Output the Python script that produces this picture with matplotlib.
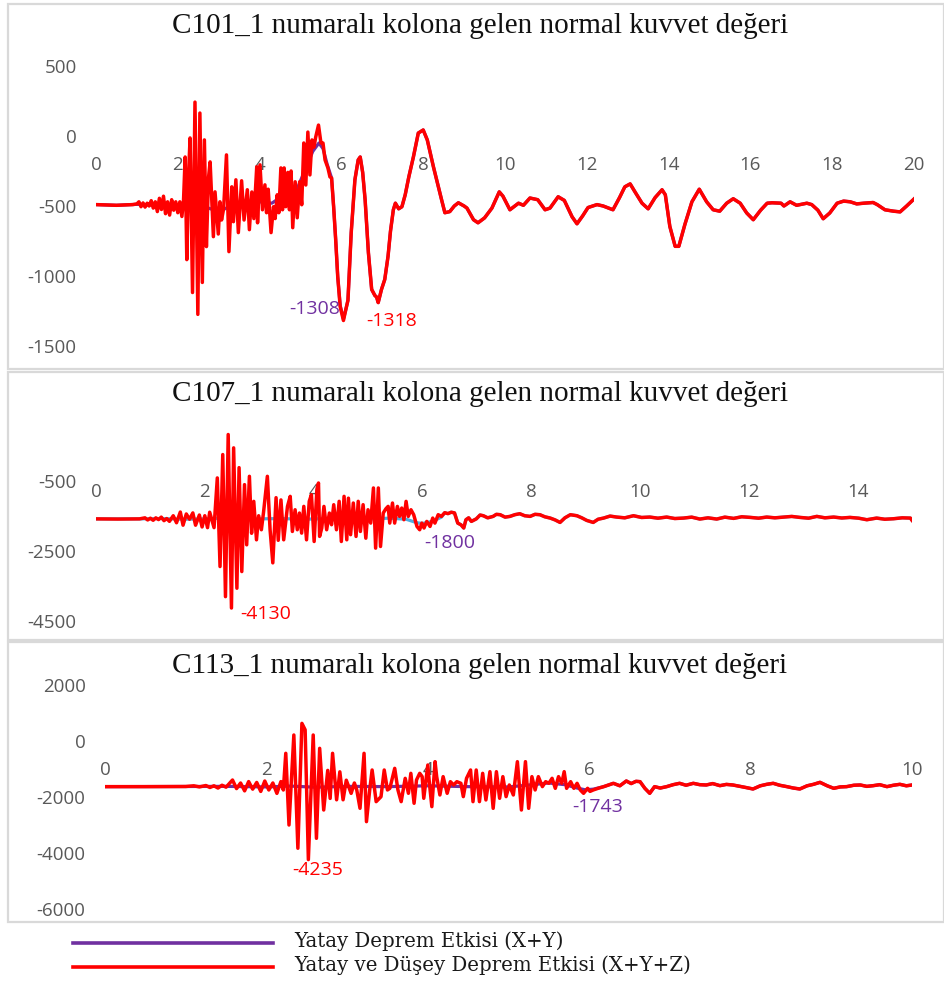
import numpy as np
import matplotlib
matplotlib.use("Agg")
import matplotlib.pyplot as plt
from matplotlib.lines import Line2D
from matplotlib.patches import Rectangle

# ---------------- DATA ----------------
titles = ["C101_1 numaralı kolona gelen normal kuvvet değeri",
          "C107_1 numaralı kolona gelen normal kuvvet değeri",
          "C113_1 numaralı kolona gelen normal kuvvet değeri"]
legend_labels = ["Yatay Deprem Etkisi (X+Y)", "Yatay ve Düşey Deprem Etkisi (X+Y+Z)"]

# Panel 1 (C101_1)
p1_red_head_t = [0.0, 0.5, 0.9, 1.0, 1.05, 1.1, 1.15, 1.2, 1.25, 1.3, 1.35, 1.4, 1.45, 1.5, 1.55, 1.6,
                 1.65, 1.7, 1.75, 1.8, 1.85, 1.9, 1.95, 2.0, 2.05, 2.1, 2.14, 2.18, 2.22, 2.26, 2.30,
                 2.36, 2.42, 2.49, 2.54, 2.60, 2.65, 2.70, 2.75, 2.79, 2.87, 2.91, 2.99, 3.03, 3.07,
                 3.12, 3.19, 3.25, 3.32, 3.36, 3.42, 3.48, 3.56, 3.62, 3.70, 3.75, 3.81, 3.86, 3.93,
                 3.95, 4.01, 4.07, 4.13, 4.17, 4.21, 4.28, 4.34, 4.38, 4.43, 4.47, 4.52, 4.56, 4.60,
                 4.64, 4.69, 4.73, 4.77, 4.81, 4.87, 4.92, 4.98, 5.03, 5.08, 5.13, 5.18, 5.23, 5.28,
                 5.33, 5.37, 5.44, 5.50, 5.55, 5.60, 5.67, 5.72, 5.76, 5.81, 5.86, 5.91, 5.97, 6.05]
p1_red_head_v = [-490, -495, -490, -485, -470, -505, -478, -508, -480, -500, -462, -515, -470, -540, -445, -525,
                 -430, -555, -470, -565, -455, -530, -470, -548, -470, -575, -460, -150, -883, -300, -14,
                 -1118, 242, -1274, 164, -1046, -28, -790, -300, -185, -719, -399, -700, -470, -600,
                 -520, -135, -826, -363, -612, -313, -690, -320, -600, -384, -669, -400, -590, -220,
                 -620, -206, -527, -349, -548, -380, -690, -505, -590, -420, -548, -228, -527, -228,
                 -505, -260, -527, -250, -655, -327, -584, -327, -491, -50, -350, 28, -278, -28,
                 -80, -10, 78, -50, -50, -171, -228, -292, -300, -505, -740, -1004, -1218, -1318]
p1_pur_head_t = [0.0, 0.5, 1.0, 1.5, 2.0, 2.3, 2.6, 3.0, 3.3, 3.6, 4.0, 4.3, 4.6, 4.9, 5.1, 5.3,
                 5.45, 5.55, 5.65, 5.76, 5.81, 5.86, 5.91, 5.97, 6.05]
p1_pur_head_v = [-490, -495, -488, -495, -505, -520, -500, -540, -500, -490, -470, -480, -420, -390, -250, -110,
                 -50, -90, -200, -300, -505, -740, -1004, -1210, -1308]
p1_tail_t = [6.10, 6.16, 6.24, 6.33, 6.41, 6.46, 6.52, 6.58, 6.66, 6.74, 6.82, 6.86, 6.90, 6.98, 7.06,
             7.14, 7.20, 7.27, 7.32, 7.40, 7.48, 7.56, 7.65, 7.76, 7.88, 8.00, 8.10, 8.25, 8.37, 8.45,
             8.53, 8.65, 8.76, 8.86, 9.00, 9.07, 9.23, 9.34, 9.50, 9.68, 9.86, 9.95, 10.12, 10.33,
             10.45, 10.61, 10.80, 10.98, 11.10, 11.30, 11.45, 11.64, 11.76, 11.90, 12.03, 12.25,
             12.40, 12.64, 12.80, 12.93, 13.06, 13.18, 13.35, 13.50, 13.67, 13.84, 13.92, 14.03,
             14.16, 14.25, 14.40, 14.57, 14.75, 14.93, 15.09, 15.25, 15.42, 15.58, 15.75, 15.91,
             16.07, 16.25, 16.41, 16.53, 16.75, 16.82, 16.97, 17.13, 17.38, 17.50, 17.65, 17.78,
             17.94, 18.12, 18.28, 18.44, 18.60, 18.77, 19.00, 19.10, 19.29, 19.50, 19.66, 19.82, 20.00]
p1_tail_v = [-1250, -1174, -690, -313, -171, -150, -260, -456, -833, -1096, -1140, -1150, -1190, -1096, -1025,
             -860, -680, -527, -480, -520, -505, -420, -290, -150, 21, 43, -28, -220, -363, -456,
             -548, -540, -500, -477, -500, -515, -598, -620, -585, -515, -399, -430, -527, -480,
             -495, -443, -455, -527, -515, -434, -460, -577, -627, -570, -511, -490,
             -500, -527, -440, -363, -342, -400, -480, -520, -440, -384, -420, -646,
             -788, -788, -630, -470, -380, -470, -527, -537, -480, -448, -480, -550,
             -598, -530, -480, -477, -480, -500, -470, -495, -480, -490, -530, -591,
             -550, -480, -465, -470, -485, -480, -475, -490, -527, -537, -542, -500, -450]

# Panel 2 (C107_1)
p2_red_head_t = [0.0, 0.4, 0.8, 0.9, 0.95, 1.0, 1.05, 1.1, 1.15, 1.2, 1.25, 1.3, 1.35, 1.42, 1.48, 1.55,
                 1.60, 1.66, 1.72, 1.78, 1.83, 1.90, 1.95, 2.00, 2.05, 2.09, 2.17, 2.23, 2.28, 2.33,
                 2.38, 2.43, 2.49, 2.53, 2.59, 2.63, 2.68, 2.73, 2.77, 2.82, 2.86, 2.90, 2.95, 2.99,
                 3.04, 3.08, 3.15, 3.20, 3.25, 3.31, 3.35, 3.40, 3.45, 3.52, 3.57, 3.61, 3.66, 3.70,
                 3.74, 3.78, 3.82, 3.87, 3.92, 3.96, 4.01, 4.06, 4.09, 4.11, 4.15, 4.19, 4.24, 4.29,
                 4.33, 4.37, 4.42, 4.47, 4.51, 4.56, 4.61, 4.64, 4.68, 4.73, 4.78, 4.82, 4.86, 4.91,
                 4.96, 5.00, 5.05, 5.10, 5.14, 5.19, 5.23, 5.28, 5.33, 5.37, 5.40, 5.45, 5.49, 5.54,
                 5.58, 5.62, 5.66, 5.70, 5.74, 5.79, 5.84, 5.90, 5.95, 5.99, 6.03, 6.08, 6.14, 6.19,
                 6.23, 6.29, 6.35]
p2_red_head_v = [-1590, -1595, -1590, -1560, -1620, -1570, -1630, -1560, -1610, -1540, -1640, -1580, -1660, -1500, -1700, -1395,
                 -1770, -1450, -1600, -1420, -1770, -1480, -1820, -1500, -1840, -1400, -1840, -423, -2948, 243,
                 -3806, 814, -4130, 434, -3566, -130, -3091, -614, -2329, -377, -2000, -1091, -2186, -1500,
                 -1900, -1400, -377, -1900, -2843, -986, -2200, -1050, -2186, -1234, -948, -1948, -1329, -1900,
                 -1423, -1995, -1234, -2186, -1090, -900, -2234, -757, -567, -2090, -1852, -1234, -1900, -1423,
                 -1757, -1186, -1900, -1090, -2234, -948, -2186, -1000, -2040, -1138, -2090, -1090, -1948, -1186,
                 -2140, -1329, -1710, -709, -2423, -709, -2376, -1423, -1300, -1234, -1710, -1138, -1710, -1234,
                 -1519, -1281, -1614, -1090, -1519, -1330, -1471, -1805, -1900, -1710, -1850, -1662, -1805, -1567,
                 -1710, -1471, -1519]
p2_pur_head_t = [0.0, 0.8, 1.2, 1.6, 2.0, 2.3, 2.6, 3.0, 3.4, 3.8, 4.2, 4.6, 5.0, 5.4, 5.7, 5.9,
                 6.0, 6.1, 6.2, 6.35]
p2_pur_head_v = [-1590, -1590, -1580, -1600, -1590, -1570, -1610, -1590, -1580, -1600, -1585, -1575, -1590, -1570, -1600, -1700,
                 -1720, -1690, -1650, -1540]
p2_tail_t = [6.41, 6.47, 6.53, 6.59, 6.65, 6.71, 6.76, 6.80, 6.85, 6.90, 6.99, 7.06, 7.12, 7.20, 7.30,
             7.36, 7.43, 7.52, 7.61, 7.70, 7.79, 7.88, 7.98, 8.07, 8.16, 8.25, 8.35, 8.44, 8.53, 8.62,
             8.72, 8.84, 8.93, 9.02, 9.14, 9.23, 9.33, 9.45, 9.57, 9.72, 9.88, 10.03, 10.18, 10.33,
             10.49, 10.64, 10.80, 10.95, 11.10, 11.25, 11.41, 11.56, 11.72, 11.87, 12.03, 12.18,
             12.33, 12.48, 12.64, 12.79, 12.94, 13.10, 13.25, 13.40, 13.56, 13.71, 13.86, 14.02,
             14.17, 14.35, 14.50, 14.66, 14.82, 14.97, 15.00]
p2_tail_v = [-1414, -1440, -1400, -1420, -1710, -1760, -1850, -1614, -1560, -1662, -1590, -1480, -1500, -1560, -1519,
             -1460, -1471, -1540, -1519, -1470, -1443, -1500, -1519, -1460, -1471, -1530, -1567, -1620, -1691, -1560,
             -1471, -1500, -1560, -1633, -1691, -1600, -1567, -1510, -1538, -1560, -1500, -1550, -1538, -1570,
             -1538, -1580, -1567, -1540, -1595, -1560, -1595, -1540, -1576, -1530, -1548, -1570,
             -1538, -1560, -1538, -1520, -1548, -1570, -1519, -1560, -1538, -1565, -1548, -1570,
             -1614, -1567, -1600, -1586, -1560, -1567, -1630]

# Panel 3 (C113_1)
p3_red_head_t = [0.0, 0.5, 1.0, 1.1, 1.17, 1.25, 1.3, 1.35, 1.4, 1.45, 1.5, 1.58, 1.63, 1.68, 1.73, 1.78,
                 1.83, 1.88, 1.93, 1.98, 2.03, 2.08, 2.13, 2.18, 2.21, 2.24, 2.28, 2.34, 2.39, 2.44,
                 2.48, 2.52, 2.58, 2.62, 2.66, 2.71, 2.76, 2.79, 2.82, 2.87, 2.91, 2.95, 2.99, 3.05,
                 3.09, 3.12, 3.16, 3.21, 3.24, 3.28, 3.31, 3.36, 3.42, 3.46, 3.50, 3.53, 3.59, 3.63,
                 3.67, 3.72, 3.76, 3.79, 3.83, 3.86, 3.90, 3.93, 3.95, 4.00, 4.02, 4.05, 4.09, 4.11,
                 4.15, 4.19, 4.24, 4.28, 4.32, 4.36, 4.41, 4.44, 4.48, 4.53, 4.56, 4.60, 4.64, 4.68,
                 4.72, 4.77, 4.81, 4.85, 4.89, 4.93, 4.97, 5.01, 5.06, 5.11, 5.16, 5.21, 5.25, 5.29,
                 5.33, 5.37, 5.42, 5.46, 5.50, 5.54, 5.58, 5.62, 5.66, 5.69, 5.72, 5.77, 5.81, 5.85,
                 5.89, 5.93, 5.98, 6.01, 6.05, 6.11, 6.18, 6.24]
p3_red_head_v = [-1630, -1630, -1625, -1600, -1640, -1590, -1660, -1600, -1680, -1580, -1650, -1393, -1700, -1500, -1780, -1450,
                 -1720, -1480, -1800, -1430, -1750, -1500, -1870, -1450, -1750, -440, -3000, 214, -3830, 630,
                 400, -4235, 214, -3475, -262, -2464, -1050, -2050, -440, -2100, -1100, -2100, -1400, -1870,
                 -1500, -1750, -2404, -440, -2880, -1749, -1035, -2166, -1990, -1035, -1749, -1690, -976, -1749,
                 -2166, -1333, -1868, -1154, -2225, -1392, -1154, -1273, -2047, -857, -1511, -2344, -738, -1273,
                 -1928, -1273, -1868, -1452, -1571, -1452, -1511, -1987, -1333, -1035, -2166, -1035, -2166, -1154,
                 -2106, -1095, -2404, -1095, -2047, -1273, -1987, -1571, -1928, -738, -2464, -738, -2404, -1273,
                 -1749, -1273, -1630, -1452, -1511, -1333, -1690, -1273, -1511, -1095, -1690, -1452, -1690, -1511,
                 -1749, -1868, -1690, -1800, -1749, -1690, -1630, -1571]
p3_pur_head_t = [0.0, 1.0, 1.5, 2.0, 2.3, 2.6, 3.0, 3.5, 4.0, 4.5, 5.0, 5.3, 5.5, 5.7, 5.85, 5.95,
                 6.05, 6.18, 6.24]
p3_pur_head_v = [-1630, -1625, -1620, -1640, -1610, -1650, -1620, -1630, -1600, -1630, -1640, -1560, -1500, -1560, -1680, -1743,
                 -1720, -1630, -1571]
p3_tail_t = [6.30, 6.38, 6.46, 6.52, 6.58, 6.63, 6.69, 6.75, 6.81, 6.88, 6.96, 7.04, 7.12, 7.20, 7.29,
             7.37, 7.45, 7.53, 7.62, 7.70, 7.78, 7.87, 7.95, 8.03, 8.12, 8.20, 8.28, 8.36, 8.45, 8.53,
             8.61, 8.70, 8.78, 8.86, 8.95, 9.03, 9.11, 9.19, 9.28, 9.36, 9.44, 9.52, 9.60, 9.69, 9.77,
             9.85, 9.93, 10.0]
p3_tail_v = [-1511, -1600, -1428, -1520, -1440, -1452, -1690, -1868, -1630, -1680, -1630, -1560, -1511, -1580, -1511,
             -1560, -1571, -1520, -1595, -1550, -1571, -1620, -1666, -1714, -1600, -1547, -1511, -1580, -1630, -1680,
             -1714, -1600, -1547, -1476, -1600, -1690, -1640, -1630, -1580, -1571, -1620, -1595, -1560, -1630, -1580,
             -1547, -1600, -1571]

# y ticks / x ranges
p1_yticks = [500, 0, -500, -1000, -1500]
p2_yticks = [-500, -2500, -4500]
p3_yticks = [2000, 0, -2000, -4000, -6000]
p1_xticks = [0, 2, 4, 6, 8, 10, 12, 14, 16, 18, 20]
p2_xticks = [0, 2, 4, 6, 8, 10, 12, 14]
p3_xticks = [0, 2, 4, 6, 8, 10]

# annotations: (text, series, t, value)
p1_notes = [("-1308", 0, 5.35, -1235), ("-1318", 1, 7.24, -1320)]
p2_notes = [("-4130", 1, 3.12, -4300), ("-1800", 0, 6.50, -2271)]
p3_notes = [("-4235", 1, 2.63, -4605), ("-1743", 0, 6.10, -2356)]

# ---------------- STYLE ----------------
RED = "#FF0000"
PURPLE = "#7030A0"
BLUE2 = "#4FAEE0"
TICK_C = "#595959"
TICK_FONT = ["Open Sans", "DejaVu Sans"]
W, H = 944, 985

fig = plt.figure(figsize=(W / 100, H / 100), dpi=100)


def fx(px):
    return px / W


def fy(py):
    return 1 - py / H


def make_panel(box, axbox, xlim, ylim, xticks, yticks, series, title, title_y, notes, colors):
    bx0, by0, bx1, by1 = box
    fig.patches.append(Rectangle((fx(bx0), fy(by1)), fx(bx1 - bx0), (by1 - by0) / H,
                                 transform=fig.transFigure, fill=False,
                                 edgecolor="#D9D9D9", linewidth=1.6, zorder=0))
    fig.text(fx(480), fy(title_y), title, ha="center", va="center",
             family=["Liberation Serif"], fontsize=21, color="#111111")
    x0, y0, x1, y1 = axbox
    ax = fig.add_axes([fx(x0), fy(y1), fx(x1 - x0), (y1 - y0) / H])
    ax.patch.set_alpha(0)
    for (t, v), c, lw in zip(series, colors, [2.3, 2.5]):
        ax.plot(t, v, color=c, linewidth=lw, solid_joinstyle="round", zorder=3)
    ax.set_xlim(*xlim)
    ax.set_ylim(*ylim)
    ax.set_xticks(xticks)
    ax.set_yticks(yticks)
    ax.set_xticklabels([str(v) for v in xticks])
    ax.set_yticklabels([str(v) for v in yticks])
    for s in ax.spines.values():
        s.set_visible(False)
    ax.spines["bottom"].set_position(("data", 0))
    ax.tick_params(axis="both", length=0, labelsize=13.5, labelcolor=TICK_C)
    ax.tick_params(axis="x", pad=14.5)
    ax.tick_params(axis="y", pad=14)
    for lab in ax.get_xticklabels() + ax.get_yticklabels():
        lab.set_family(TICK_FONT)
    for txt, si, t, v in notes:
        ax.text(t, v, txt, ha="center", va="center", color=[PURPLE, RED][si],
                fontsize=14, family=TICK_FONT, zorder=4)
    return ax


# Panel 1
s1 = [(p1_pur_head_t + p1_tail_t, p1_pur_head_v + p1_tail_v),
      (p1_red_head_t + p1_tail_t, p1_red_head_v + p1_tail_v)]
make_panel((8, 4, 944, 369), (96, 66, 914, 346), (0, 20), (-1500, 500),
           p1_xticks, p1_yticks, s1, titles[0], 26, p1_notes, [PURPLE, RED])

# Panel 2
s2 = [(p2_pur_head_t + p2_tail_t, p2_pur_head_v + p2_tail_v),
      (p2_red_head_t + p2_tail_t, p2_red_head_v + p2_tail_v)]
make_panel((8, 372, 944, 640), (96, 428, 912, 621), (0, 15), (-4500, 1000),
           p2_xticks, p2_yticks, s2, titles[1], 394, p2_notes, [BLUE2, RED])

# Panel 3
s3 = [(p3_pur_head_t + p3_tail_t, p3_pur_head_v + p3_tail_v),
      (p3_red_head_t + p3_tail_t, p3_red_head_v + p3_tail_v)]
make_panel((8, 642, 944, 922), (105, 685, 912, 909), (0, 10), (-6000, 2000),
           p3_xticks, p3_yticks, s3, titles[2], 666, p3_notes, [PURPLE, RED])

# Legend
for ly, c, lab in [(943, PURPLE, legend_labels[0]), (967, RED, legend_labels[1])]:
    fig.lines.append(Line2D([fx(73), fx(273)], [fy(ly), fy(ly)], transform=fig.transFigure,
                            color=c, linewidth=2.6))
    fig.text(fx(294), fy(ly - 2), lab, ha="left", va="center", family=["DejaVu Serif"],
             fontsize=14.2, color="#1a1a1a")

fig.savefig("out.png", dpi=100)
